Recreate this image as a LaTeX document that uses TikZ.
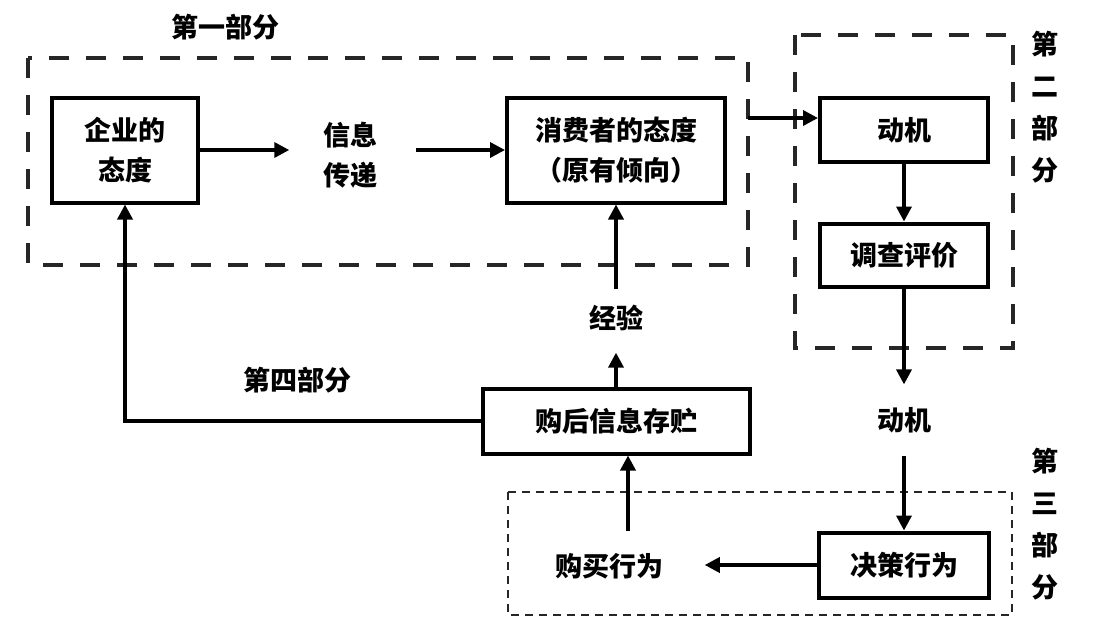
\documentclass[tikz,border=0pt]{standalone}
\usepackage{fontspec}
\newfontfamily\cjk{Noto Sans CJK SC}
\usetikzlibrary{arrows.meta}

\begin{document}
\begin{tikzpicture}[x=1pt,y=-1pt,->,>={Triangle[length=15pt,width=15pt]},line width=3.5pt,
  box node/.style={draw,rectangle,line width=4pt,font=\cjk\bfseries\fontsize{27}{40}\selectfont,align=center,inner sep=0pt},
  word node/.style={font=\cjk\bfseries\fontsize{27}{40}\selectfont,align=center,inner sep=0pt},
  side node/.style={font=\cjk\bfseries\fontsize{27}{42}\selectfont,align=center,inner sep=0pt},
  part box/.style={-,draw=black!85,line width=4pt,dash pattern=on 20pt off 17pt},
  thin part/.style={-,draw=black!85,line width=1.8pt,dash pattern=on 8pt off 6pt}]

  \useasboundingbox (0,0) rectangle (1094,632);

  % dashed parts
  \draw[part box] (28,58) rectangle (748,265);
  \draw[part box] (795,35) rectangle (1013,348);
  \draw[thin part] (508,492) rectangle (1012,615);

  \node[word node] (part1) at (225,27) {第一部分};
  \node[side node] (part2) at (1045,107) {第\\二\\部\\分};
  \node[side node] (part3) at (1045,524) {第\\三\\部\\分};
  \node[word node] (part4) at (297,380) {第四部分};

  \node[box node,minimum width=146pt,minimum height=105pt] (qiye) at (125,150) {企业的\\态度};
  \node[word node] (xinxi) at (350,155) {信息\\传递};
  \node[box node,minimum width=218pt,minimum height=105pt] (xiaofei) at (616,150) {消费者的态度\\（原有倾向）};
  \node[box node,minimum width=168pt,minimum height=64pt] (dongji) at (904,130) {动机};
  \node[box node,minimum width=168pt,minimum height=63pt] (diaocha) at (904,255) {调查评价};
  \node[word node] (dongji2) at (904,420) {动机};
  \node[box node,minimum width=170pt,minimum height=65pt] (juece) at (904,565) {决策行为};
  \node[word node] (goumai) at (609,566) {购买行为};
  \node[box node,minimum width=267pt,minimum height=65pt] (gouhou) at (616,421) {购后信息存贮};
  \node[word node] (jingyan) at (616,318) {经验};

  \coordinate (p1exit) at (748,118);

  \draw[shorten >=32pt] (qiye.east) -- (qiye.east -| xinxi.west);
  \draw[shorten <=37pt] (xinxi.east |- xiaofei.west) -- (xiaofei.west);
  \draw (p1exit) -- (p1exit -| dongji.west);
  \draw (dongji) -- (diaocha);
  \draw[shorten >=21pt] (diaocha) -- (dongji2);
  \draw[shorten <=21pt] (dongji2) -- (juece);
  \draw[shorten >=40pt] (juece.west) -- (juece.west -| goumai.east);
  \draw[shorten <=20pt] ([xshift=19pt]goumai.north) -- ([xshift=12pt]gouhou.south);
  \draw[shorten >=20pt] (gouhou) -- (jingyan);
  \draw[shorten <=14pt] (jingyan) -- (xiaofei);
  \draw (gouhou.west) -| (qiye.south);
\end{tikzpicture}
\end{document}
